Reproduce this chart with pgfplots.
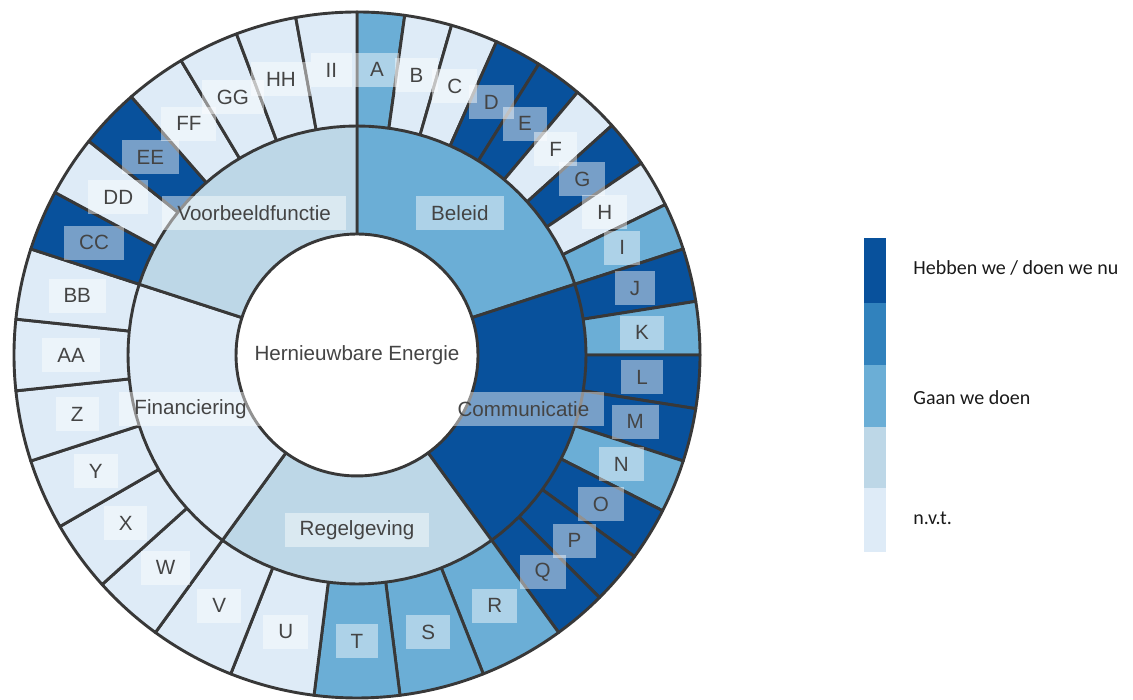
\documentclass[border=0pt]{standalone}
\usepackage{pgfplots}
\pgfplotsset{compat=1.18}
\usepackage{fontspec}
\setmainfont{Liberation Sans}
\newfontfamily\legfont{Carlito}
\definecolor{c1}{HTML}{08519C}
\definecolor{c2}{HTML}{3182BD}
\definecolor{c3}{HTML}{6BAED6}
\definecolor{c4}{HTML}{BDD7E7}
\definecolor{c5}{HTML}{DEEBF7}
\definecolor{bord}{HTML}{383838}
\definecolor{txt}{HTML}{444444}
\tikzset{lbl/.style={fill=white, fill opacity=0.45, text opacity=1, text=txt,
  inner xsep=7.5pt, inner ysep=0pt, minimum height=17pt,
  font=\fontsize{10.3}{12}\selectfont}}
% sector (pie wedge): start angle, end angle (clockwise from top), radius, colour
\newcommand{\seg}[4]{\addplot[fill=#4, draw=bord, line width=1.45pt, line join=round,
  domain=#1:#2, samples=25] ({#3*sin(x)},{#3*cos(x)}) -- (axis cs:0,0) -- cycle;}
\newcommand{\lab}[3]{\node[lbl] at (axis cs:{#2*sin(#1)},{#2*cos(#1)}) {#3};}
\newcommand{\band}[3]{\addplot[fill=#3, draw=none] coordinates {(507,#1) (529,#1) (529,#2) (507,#2)} -- cycle;}
\begin{document}
\begin{tikzpicture}
\begin{axis}[scale only axis, width=566.5pt, height=350pt,
  xmin=-357, xmax=776, ymin=-345, ymax=355, hide axis, clip=false]
\addplot[draw=none] coordinates {(-357,-345) (776,355)};
% ---- outer ring (leaves) ----
% Beleid
\seg{0}{8}{343}{c3}
\seg{8}{16}{343}{c5}
\seg{16}{24}{343}{c5}
\seg{24}{32}{343}{c1}
\seg{32}{40}{343}{c1}
\seg{40}{48}{343}{c5}
\seg{48}{56}{343}{c1}
\seg{56}{64}{343}{c5}
\seg{64}{72}{343}{c3}
% Communicatie
\seg{72}{81}{343}{c1}
\seg{81}{90}{343}{c3}
\seg{90}{99}{343}{c1}
\seg{99}{108}{343}{c1}
\seg{108}{117}{343}{c3}
\seg{117}{126}{343}{c1}
\seg{126}{135}{343}{c1}
\seg{135}{144}{343}{c1}
% Regelgeving
\seg{144}{158.4}{343}{c3}
\seg{158.4}{172.8}{343}{c3}
\seg{172.8}{187.2}{343}{c3}
\seg{187.2}{201.6}{343}{c5}
\seg{201.6}{216}{343}{c5}
% Financiering
\seg{216}{228}{343}{c5}
\seg{228}{240}{343}{c5}
\seg{240}{252}{343}{c5}
\seg{252}{264}{343}{c5}
\seg{264}{276}{343}{c5}
\seg{276}{288}{343}{c5}
% Voorbeeldfunctie
\seg{288}{298.286}{343}{c1}
\seg{298.286}{308.571}{343}{c5}
\seg{308.571}{318.857}{343}{c1}
\seg{318.857}{329.143}{343}{c5}
\seg{329.143}{339.429}{343}{c5}
\seg{339.429}{349.714}{343}{c5}
\seg{349.714}{360}{343}{c5}
% ---- inner ring ----
\seg{0}{72}{229}{c3}
\seg{72}{144}{229}{c1}
\seg{144}{216}{229}{c4}
\seg{216}{288}{229}{c5}
\seg{288}{360}{229}{c4}
% ---- centre ----
\addplot[fill=white, draw=bord, line width=1.45pt, domain=0:360, samples=120] ({121*sin(x)},{121*cos(x)}) -- cycle;
% ---- labels ----
\lab{4}{286}{A}
\lab{12}{286}{B}
\lab{20}{286}{C}
\lab{28}{286}{D}
\lab{36}{286}{E}
\lab{44}{286}{F}
\lab{52}{286}{G}
\lab{60}{286}{H}
\lab{68}{286}{I}
\lab{76.5}{286}{J}
\lab{85.5}{286}{K}
\lab{94.5}{286}{L}
\lab{103.5}{286}{M}
\lab{112.5}{286}{N}
\lab{121.5}{286}{O}
\lab{130.5}{286}{P}
\lab{139.5}{286}{Q}
\lab{151.2}{286}{R}
\lab{165.6}{286}{S}
\lab{180}{286}{T}
\lab{194.4}{286}{U}
\lab{208.8}{286}{V}
\lab{222}{286}{W}
\lab{234}{286}{X}
\lab{246}{286}{Y}
\lab{258}{286}{Z}
\lab{270}{286}{AA}
\lab{282}{286}{BB}
\lab{293.143}{286}{CC}
\lab{303.429}{286}{DD}
\lab{313.714}{286}{EE}
\lab{324}{286}{FF}
\lab{334.286}{286}{GG}
\lab{344.571}{286}{HH}
\lab{354.857}{286}{II}
\lab{36}{175}{Beleid}
\lab{108}{175}{Communicatie}
\lab{180}{175}{Regelgeving}
\lab{252}{175}{Financiering}
\lab{324}{175}{Voorbeeldfunctie}
\node[text=txt, font=\fontsize{10.3}{12}\selectfont] at (axis cs:0,0) {Hernieuwbare Energie};
% ---- legend ----
\band{52}{117}{c1}
\band{-10}{52}{c2}
\band{-72}{-10}{c3}
\band{-133}{-72}{c4}
\band{-197}{-133}{c5}
\node[anchor=west, inner sep=0pt, text=black!90, font=\legfont\fontsize{10}{12}\selectfont] at (axis cs:556,87) {Hebben we / doen we nu};
\node[anchor=west, inner sep=0pt, text=black!90, font=\legfont\fontsize{10}{12}\selectfont] at (axis cs:556,-43) {Gaan we doen};
\node[anchor=west, inner sep=0pt, text=black!90, font=\legfont\fontsize{10}{12}\selectfont] at (axis cs:556,-163) {n.v.t.};
\end{axis}
\end{tikzpicture}
\end{document}
